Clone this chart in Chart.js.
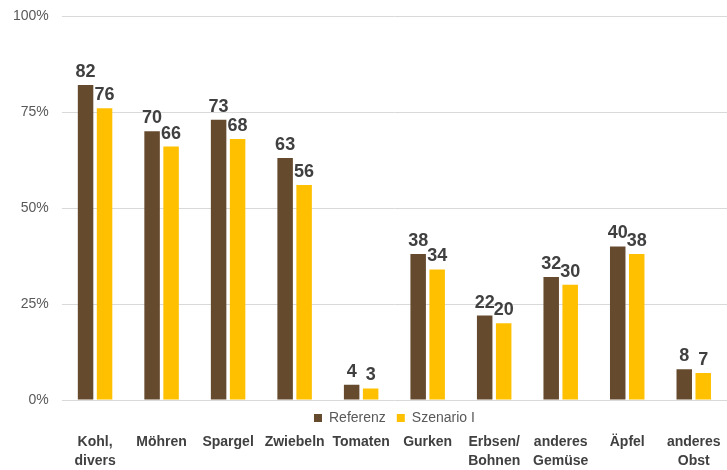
<!DOCTYPE html>
<html>
<head>
<meta charset="utf-8">
<script src="https://cdn.jsdelivr.net/npm/chart.js@4/dist/chart.umd.min.js"></script>
<style>
  html, body { margin: 0; padding: 0; background: #fff; }
  #wrap { width: 727px; height: 470px; }
</style>
</head>
<body>
<div id="wrap"><canvas id="chart"></canvas></div>
<script>
// categories and values (percent)
var categories = [['Kohl,', 'divers'], 'Möhren', 'Spargel', 'Zwiebeln', 'Tomaten', 'Gurken',
                  ['Erbsen/', 'Bohnen'], ['anderes', 'Gemüse'], 'Äpfel', ['anderes', 'Obst']];
var referenz = [82, 70, 73, 63, 4, 38, 22, 32, 40, 8];
var szenario = [76, 66, 68, 56, 3, 34, 20, 30, 38, 7];
var yTicks = [0, 25, 50, 75, 100];

Chart.defaults.font.family = "'Liberation Sans', Arial, sans-serif";

// value labels above each bar
var valueLabels = {
    id: 'valueLabels',
    afterDatasetsDraw: function (chart) {
        var ctx = chart.ctx;
        ctx.save();
        ctx.font = "bold 18px 'Liberation Sans', Arial, sans-serif";
        ctx.fillStyle = '#404040';
        ctx.textAlign = 'center';
        ctx.textBaseline = 'alphabetic';
        chart.data.datasets.forEach(function (ds, i) {
            chart.getDatasetMeta(i).data.forEach(function (bar, j) {
                ctx.fillText(ds.data[j], bar.x, bar.y - 8);
            });
        });
        ctx.restore();
    }
};

new Chart(document.getElementById('chart'), {
    type: 'bar',
    data: {
        labels: categories,
        datasets: [{
            label: 'Referenz',
            data: referenz,
            backgroundColor: '#664A2E',
            categoryPercentage: 0.571,
            barPercentage: 0.816
        }, {
            label: 'Szenario I',
            data: szenario,
            backgroundColor: '#FFC000',
            categoryPercentage: 0.571,
            barPercentage: 0.816
        }]
    },
    options: {
        responsive: true,
        maintainAspectRatio: false,
        animation: false,
        layout: { padding: { top: 0, left: 0, right: 0, bottom: 0 } },
        plugins: {
            legend: {
                position: 'bottom',
                weight: -10, // keep legend between the plot and the category labels
                fullSize: false,
                maxHeight: 31,
                labels: {
                    boxWidth: 8,
                    boxHeight: 8,
                    padding: 11,
                    color: '#595959',
                    font: { size: 14 }
                }
            },
            tooltip: { enabled: false }
        },
        scales: {
            x: {
                afterFit: function (axis) {
                    axis.height = 39;
                },
                grid: { display: false, drawTicks: false },
                border: { display: false },
                ticks: {
                    autoSkip: false,
                    maxRotation: 0,
                    padding: 2,
                    color: '#404040',
                    font: { size: 14, weight: 'bold', lineHeight: 1.357 }
                }
            },
            y: {
                min: 0,
                max: 100,
                afterBuildTicks: function (axis) {
                    axis.ticks = yTicks.map(function (v) { return { value: v }; });
                },
                afterFit: function (axis) {
                    axis.paddingTop = 16; // plot top sits at y=16 like the original
                },
                grid: { color: '#d9d9d9', drawTicks: false },
                border: { display: false },
                ticks: {
                    padding: 13,
                    color: '#595959',
                    font: { size: 14 },
                    callback: function (v) { return v + '%'; }
                }
            }
        }
    },
    plugins: [valueLabels]
});
</script>
</body>
</html>
